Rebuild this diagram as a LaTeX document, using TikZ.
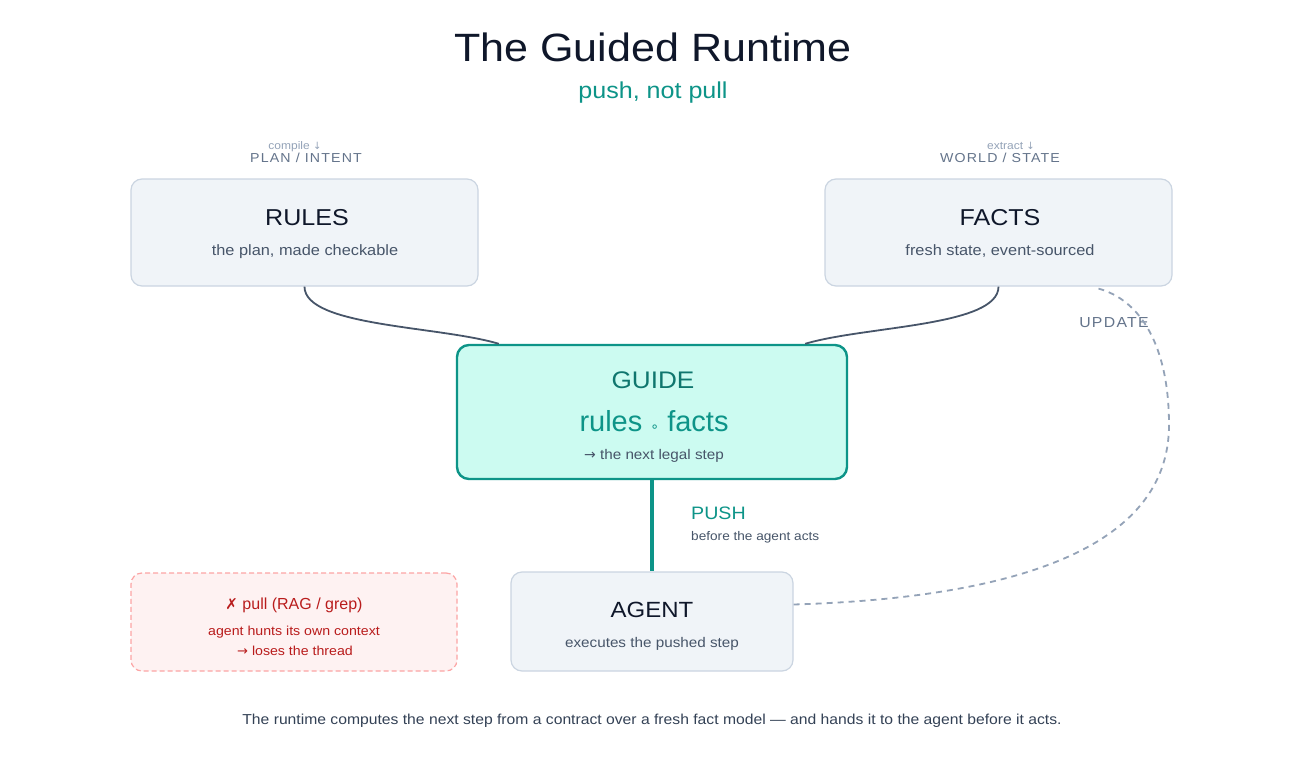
\documentclass[tikz,border=0pt]{standalone}
\usepackage{fontspec}
\setmainfont[FakeStretch=1.09]{Liberation Sans}
\newfontfamily\plainfont{Liberation Sans}
\newfontfamily\symfont{DejaVu Sans}
\newfontfamily\spacedfont[LetterSpace=9,FakeStretch=1.09]{Liberation Sans}
\usetikzlibrary{calc}
\definecolor{ink}{HTML}{0F172A}
\definecolor{slate}{HTML}{475569}
\definecolor{darkslate}{HTML}{334155}
\definecolor{muted}{HTML}{64748B}
\definecolor{faint}{HTML}{94A3B8}
\definecolor{tealc}{HTML}{0D9488}
\definecolor{tealdark}{HTML}{0F766E}
\definecolor{tealfill}{HTML}{CCFBF1}
\definecolor{boxfill}{HTML}{F0F4F8}
\definecolor{boxline}{HTML}{CBD5E1}
\definecolor{redfill}{HTML}{FEF2F2}
\definecolor{redline}{HTML}{FCA5A5}
\definecolor{redtext}{HTML}{B91C1C}
\newcommand{\fsz}[1]{\fontsize{#1}{#1}\selectfont}
\newcommand{\rarr}{{\symfont →}}
\tikzset{
  card/.style={draw=boxline, fill=boxfill, rounded corners=11pt, line width=1.2pt, inner sep=0pt},
  guidebox/.style={draw=tealc, fill=tealfill, rounded corners=12pt, line width=2.4pt, inner sep=0pt},
  pullbox/.style={draw=redline, fill=redfill, rounded corners=11pt, line width=1.2pt, dash pattern=on 5pt off 3pt, inner sep=0pt},
  txt/.style={anchor=base, inner sep=0pt},
  link/.style={draw=slate, line width=1.8pt},
  pushline/.style={draw=tealc, line width=4pt},
  updline/.style={draw=faint, line width=1.8pt, dash pattern=on 6pt off 5pt},
}
\begin{document}
\begin{tikzpicture}[x=1pt,y=-1pt]
\useasboundingbox (0,0) rectangle (1304,760);
\fill[white] (0,0) rectangle (1304,760);

% title
\node[txt, text=ink] (title) at (653,62) {\fsz{39.5}The Guided Runtime};
\node[txt, text=tealc] (subtitle) at (653,99) {\fsz{23}push, not pull};

% boxes
\node[card, minimum width=347pt, minimum height=107pt] (rules) at (304.5,232.5) {};
\node[card, minimum width=347pt, minimum height=107pt] (facts) at (998.5,232.5) {};
\node[guidebox, minimum width=390pt, minimum height=134pt] (guide) at (652,412) {};
\node[card, minimum width=282pt, minimum height=99pt] (agent) at (652,621.5) {};
\node[pullbox, minimum width=326pt, minimum height=98pt] (pull) at (294,622) {};

% headers
\node[txt, text=faint] (compile) at (295,149) {\fsz{11}compile {\symfont\fsz{10}↓}};
\node[txt, text=muted] (plan) at (306,162) {\spacedfont\fsz{13}PLAN / INTENT};
\node[txt, text=faint] (extract) at (1011,149) {\fsz{11}extract {\symfont\fsz{10}↓}};
\node[txt, text=muted] (world) at (1000,162) {\spacedfont\fsz{13}WORLD / STATE};

% rules / facts text
\node[txt, text=ink] (rulesT) at (307,225) {\fsz{23}RULES};
\node[txt, text=slate] (rulesS) at (305,255) {\fsz{15}the plan, made checkable};
\node[txt, text=ink] (factsT) at (1000,225) {\fsz{23}FACTS};
\node[txt, text=slate] (factsS) at (1000,255) {\fsz{15}fresh state, event-sourced};

% guide text
\node[txt, text=tealdark] (guideT) at (653,388) {\fsz{24}GUIDE};
\node[txt, text=tealc] (guideM) at (654,431) {\plainfont\fsz{29}rules {\symfont\fsz{14}∘} facts};
\node[txt, text=slate] (guideS) at (654,459) {\fsz{14}\rarr\ the next legal step};

% push label
\node[txt, text=tealc, anchor=base west] (pushT) at (691,519) {\fsz{18}PUSH};
\node[txt, text=slate, anchor=base west] (pushS) at (691,540) {\fsz{12.5}before the agent acts};

% agent text
\node[txt, text=ink] (agentT) at (652,617) {\fsz{22}AGENT};
\node[txt, text=slate] (agentS) at (652,647) {\fsz{14}executes the pushed step};

% pull text
\node[txt, text=redtext] (pullT) at (294,609) {\plainfont\fsz{16}{\symfont\fsz{15}✗} pull (RAG / grep)};
\node[txt, text=redtext] (pullS1) at (294,635) {\fsz{13}agent hunts its own context};
\node[txt, text=redtext] (pullS2) at (295,655) {\fsz{13}\rarr\ loses the thread};

% update label
\node[txt, text=muted] (updT) at (1114,327) {\spacedfont\fsz{14.5}UPDATE};

% footer
\node[txt, text=darkslate] (footer) at (652,724) {\fsz{14.4}The runtime computes the next step from a contract over a fresh fact model — and hands it to the agent before it acts.};

% connectors
\coordinate (gL) at ($(guide.north west)+(43,0)$);
\coordinate (gR) at ($(guide.north east)+(-43,0)$);
\draw[link] (rules.south) .. controls ($(rules.south)+(0,40)$) and ($(gL)+(-60,-18)$) .. (gL);
\draw[link] (facts.south) .. controls ($(facts.south)+(0,40)$) and ($(gR)+(60,-18)$) .. (gR);
\draw[pushline] (guide.south) -- (agent.north);

\coordinate (uS) at ($(agent.east)+(0,-17)$);
\coordinate (uE) at ($(facts.south)+(100,2)$);
\coordinate (uM) at (1169,425);
\draw[updline] (uS) .. controls (1010,598) and (1169,550) .. (uM) .. controls (1169,345) and (1140,300) .. (uE);
\end{tikzpicture}
\end{document}
